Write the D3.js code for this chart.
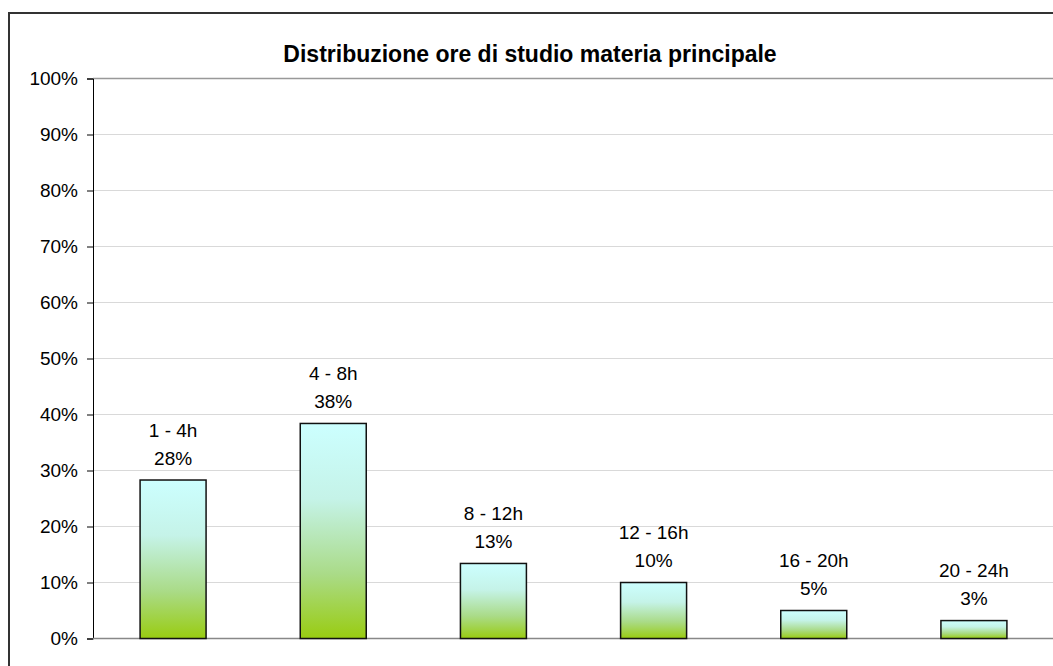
<!DOCTYPE html>
<html>
<head>
<meta charset="utf-8">
<script src="https://cdn.jsdelivr.net/npm/d3@7"></script>
<style>
    body { margin: 0; background: #ffffff; }
    text { font-family: Arial, "Liberation Sans", sans-serif; fill: #000; }
</style>
</head>
<body>
<script>

// chart data
var categories = ["1 - 4h", "4 - 8h", "8 - 12h", "12 - 16h", "16 - 20h", "20 - 24h"];
var values = [28.3, 38.4, 13.4, 10.0, 5.0, 3.2];
var valueLabels = ["28%", "38%", "13%", "10%", "5%", "3%"];
var yTicks = [0, 10, 20, 30, 40, 50, 60, 70, 80, 90, 100];
var title = "Distribuzione ore di studio materia principale";

// set variables for later use
var canvasX = 1053;
var canvasY = 666;
var plotLeft = 93;
var plotRight = 1054;
var plotTop = 78.5;
var plotBottom = 638.5;

var svg = d3.select("body")
            .append("svg")
            .attr("width", canvasX)
            .attr("height", canvasY);

// gradient for the bars
var grad = svg.append("defs")
              .append("linearGradient")
              .attr("id", "barGrad")
              .attr("x1", 0).attr("y1", 0)
              .attr("x2", 0).attr("y2", 1);
grad.append("stop").attr("offset", "0%").attr("stop-color", "#ccffff");
grad.append("stop").attr("offset", "35%").attr("stop-color", "#c5f3e8");
grad.append("stop").attr("offset", "70%").attr("stop-color", "#aadb88");
grad.append("stop").attr("offset", "100%").attr("stop-color", "#99cc11");

// outer chart border (runs off the picture at right and bottom)
svg.append("rect")
   .attr("x", 9)
   .attr("y", 13)
   .attr("width", 1200)
   .attr("height", 800)
   .attr("fill", "none")
   .attr("stroke", "#333")
   .attr("stroke-width", 2);

// scales
var scaleX = d3.scaleBand()
               .domain(categories)
               .range([plotLeft, plotRight])
               .paddingInner(0.588)
               .paddingOuter(0.294);

var scaleY = d3.scaleLinear()
               .domain([0, 100])
               .range([plotBottom, plotTop]);

// gridlines
svg.append("g")
   .selectAll("line")
   .data(yTicks.filter(function(d) { return d > 0; }))
   .enter()
   .append("line")
   .attr("x1", plotLeft)
   .attr("x2", canvasX)
   .attr("y1", function(d) { return scaleY(d); })
   .attr("y2", function(d) { return scaleY(d); })
   .attr("stroke", function(d) { return d == 100 ? "#999" : "#d9d9d9"; })
   .attr("stroke-width", function(d) { return d == 100 ? 1.5 : 1; });

// y axis
var yAxis = d3.axisLeft(scaleY)
              .tickValues(yTicks)
              .tickSize(6)
              .tickPadding(9)
              .tickFormat(function(d) { return d + "%"; });

var gy = svg.append("g")
            .attr("transform", "translate(" + plotLeft + ",0)")
            .call(yAxis);
gy.select(".domain").attr("stroke", "#000");
gy.selectAll(".tick line").attr("stroke", "#000");
gy.selectAll("text")
  .style("font-size", "19px")
  .style("font-family", "Arial, 'Liberation Sans', sans-serif")
  .attr("fill", "#000");

// bottom axis line
svg.append("line")
   .attr("x1", plotLeft)
   .attr("x2", canvasX)
   .attr("y1", plotBottom)
   .attr("y2", plotBottom)
   .attr("stroke", "#888")
   .attr("stroke-width", 1.5);

// bars
svg.selectAll(".bar")
   .data(values)
   .enter()
   .append("rect")
   .attr("class", "bar")
   .attr("x", function(d, i) { return scaleX(categories[i]); })
   .attr("y", function(d) { return scaleY(d); })
   .attr("width", scaleX.bandwidth())
   .attr("height", function(d) { return plotBottom - scaleY(d); })
   .attr("fill", "url(#barGrad)")
   .attr("stroke", "#111")
   .attr("stroke-width", 1.5);

// data labels: category and percentage above each bar
var labels = svg.selectAll(".lbl")
                .data(values)
                .enter()
                .append("g")
                .attr("class", "lbl")
                .attr("transform", function(d, i) {
                    return "translate(" + (scaleX(categories[i]) + scaleX.bandwidth() / 2) + "," + scaleY(d) + ")";
                });

labels.append("text")
      .attr("y", -50)
      .attr("dy", "0.35em")
      .attr("text-anchor", "middle")
      .style("font-size", "19px")
      .text(function(d, i) { return categories[i]; });

labels.append("text")
      .attr("y", -22)
      .attr("dy", "0.35em")
      .attr("text-anchor", "middle")
      .style("font-size", "19px")
      .text(function(d, i) { return valueLabels[i]; });

// title
svg.append("text")
   .attr("x", 530)
   .attr("y", 62)
   .attr("text-anchor", "middle")
   .style("font-size", "23px")
   .style("font-weight", "bold")
   .text(title);

</script>
</body>
</html>
